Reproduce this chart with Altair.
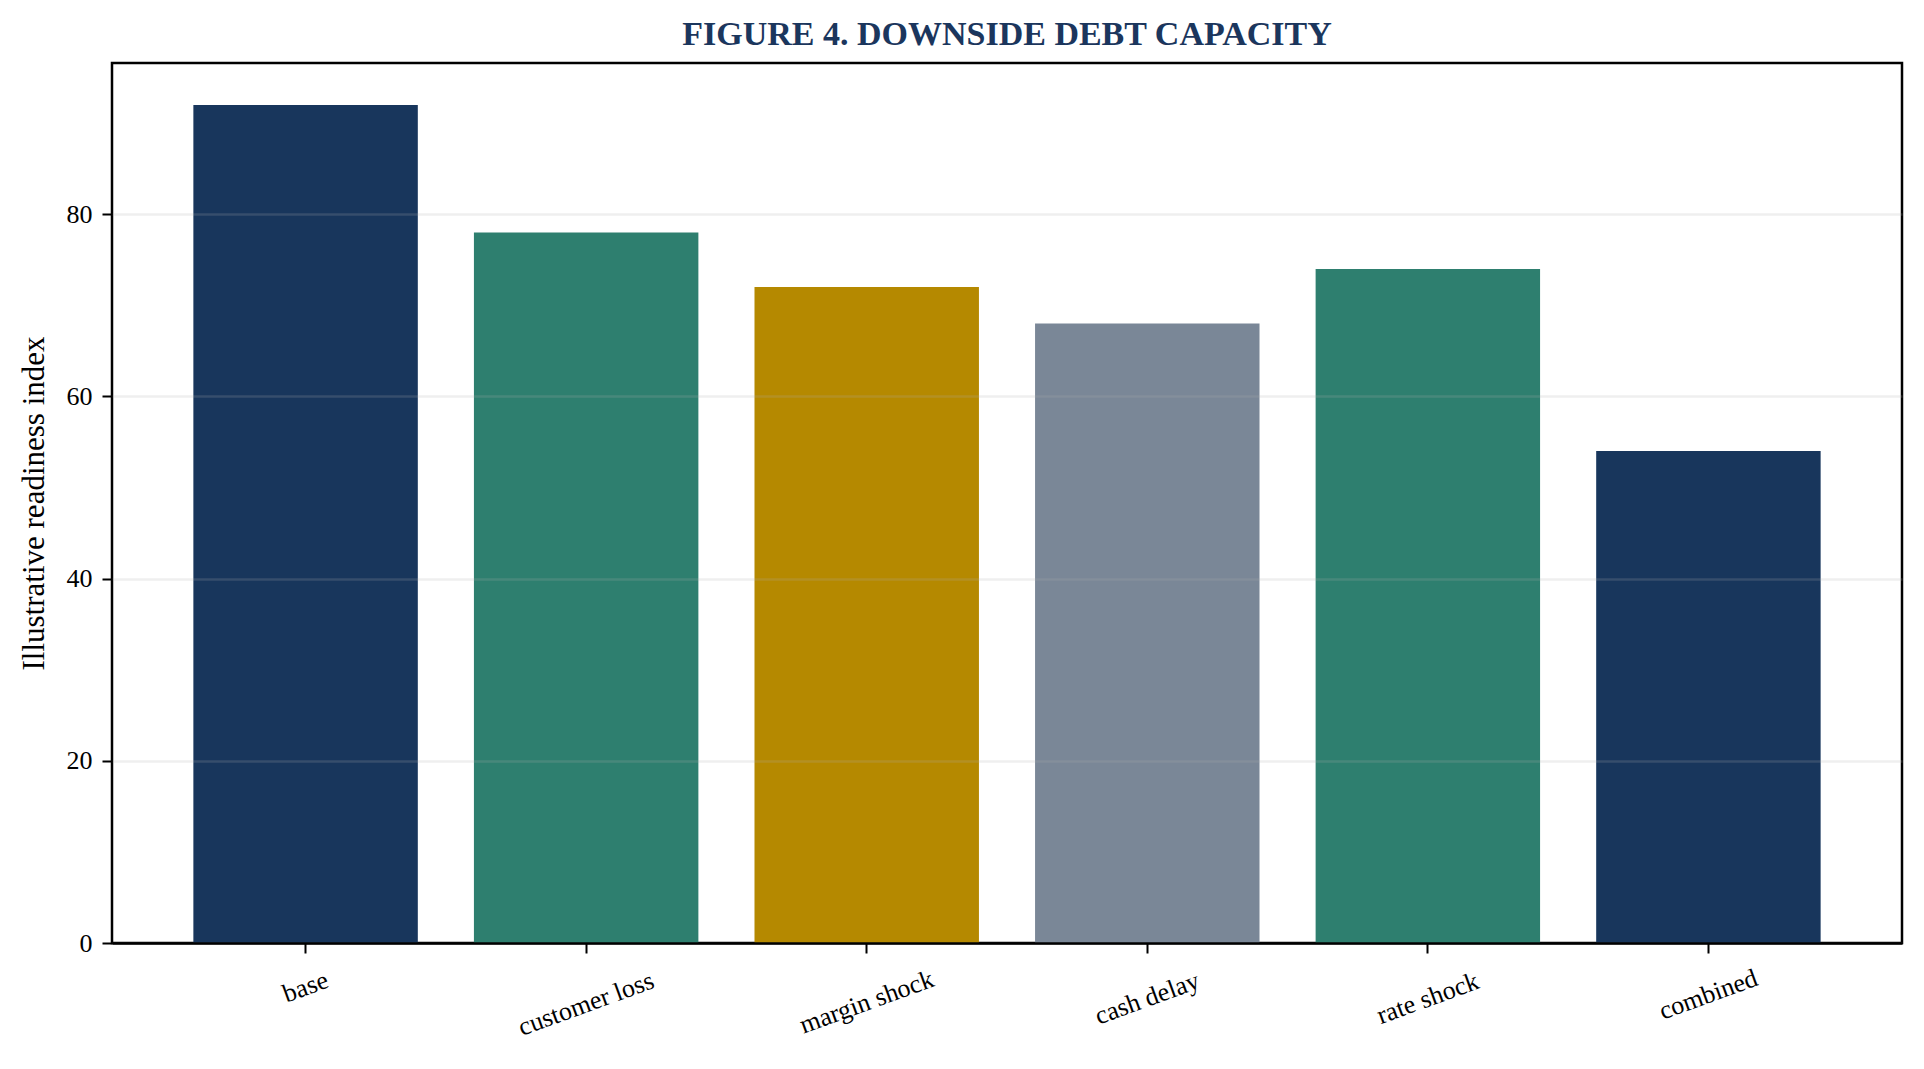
import pandas as pd
import altair as alt

# scenario data
scenarios = ['base', 'customer loss', 'margin shock', 'cash delay', 'rate shock', 'combined']
readiness = [92, 78, 72, 68, 74, 54]

# one colour per scenario
bar_colors = ['#18365c', '#2e7f6f', '#b58900', '#7a8797', '#2e7f6f', '#18365c']

df = pd.DataFrame({'scenario': scenarios, 'readiness': readiness})

FONT = 'Liberation Serif'

# x labels are rotated about their centre; push longer ones further down so the boxes line up at the top
label_pad = alt.ExprRef(expr='14 + (0.342 * length(datum.label) * 11 + 24.4) / 2')

bars = alt.Chart(df).mark_bar().encode(
    x=alt.X('scenario:N',
            sort=scenarios,
            scale=alt.Scale(paddingInner=0.2, paddingOuter=0.29),
            axis=alt.Axis(title=None, labelAngle=-20, labelAlign='center', labelBaseline='middle',
                          labelPadding=label_pad,
                          labelFont=FONT, labelFontSize=26, labelColor='black',
                          tickColor='black', tickSize=10, tickWidth=2,
                          domainColor='black', domainWidth=2.5, grid=False, zindex=1)
            ),
    y=alt.Y('readiness:Q',
            scale=alt.Scale(domain=[0, 96.6], nice=False),
            axis=alt.Axis(title='Illustrative readiness index', values=[0, 20, 40, 60, 80],
                          titleFont=FONT, titleFontSize=31, titleFontWeight='normal', titleColor='black',
                          titleAngle=-90, titleBaseline='middle', titleAlign='center',
                          titleX=-78, titleY=440,
                          labelFont=FONT, labelFontSize=26, labelColor='black', labelPadding=10,
                          tickColor='black', tickSize=10, tickWidth=2,
                          domain=False, grid=True, gridColor='#b0b0b0', gridOpacity=0.2, gridWidth=2.5,
                          zindex=1)
            ),
    color=alt.Color('scenario:N', sort=scenarios,
                    scale=alt.Scale(domain=scenarios, range=bar_colors),
                    legend=None)
)

chart = bars.properties(
    width=1790,
    height=880,
    title=alt.TitleParams('FIGURE 4. DOWNSIDE DEBT CAPACITY', font=FONT, fontSize=34,
                          fontWeight='bold', color='#1b365d', anchor='middle',
                          baseline='alphabetic', offset=12, dy=28),
    autosize=alt.AutoSizeParams(type='none'),
    padding={'left': 104, 'top': 55, 'right': 10, 'bottom': 100}
).configure_view(stroke='black', strokeWidth=2.5)

chart.save("out.html", embed_options={"renderer": "svg", "actions": False})
